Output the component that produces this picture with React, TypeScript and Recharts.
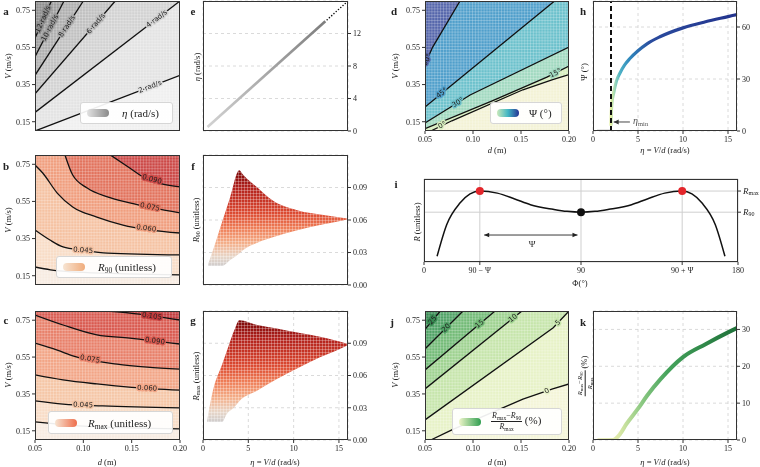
import React from "react";
import {
  ComposedChart,
  XAxis,
  YAxis,
  CartesianGrid,
  Line,
  Area,
  Scatter,
  ReferenceLine,
} from "recharts";

const SERIF = "'Liberation Serif', 'DejaVu Serif', serif";
const SANS = "'DejaVu Sans', sans-serif";

// shared axes
const dTicks = [0.05, 0.1, 0.15, 0.2];
const vTicks = [0.15, 0.35, 0.55, 0.75];
const etaTicks = [0, 5, 10, 15];

// a: eta = V/d contours (d in m, v in m/s)
const eta2 = [{ d: 0.05, v: 0.1 }, { d: 0.2, v: 0.4 }];
const eta4 = [{ d: 0.05, v: 0.2 }, { d: 0.2, v: 0.8 }];
const eta6 = [{ d: 0.05, v: 0.3 }, { d: 0.133, v: 0.8 }];
const eta8 = [{ d: 0.05, v: 0.4 }, { d: 0.1, v: 0.8 }];
const eta10 = [{ d: 0.05, v: 0.5 }, { d: 0.08, v: 0.8 }];
const eta12 = [{ d: 0.05, v: 0.6 }, { d: 0.067, v: 0.8 }];
const etaLabels = [
  { d: 0.169, v: 0.338, text: "2 rad/s" },
  { d: 0.176, v: 0.704, text: "4 rad/s" },
  { d: 0.113, v: 0.678, text: "6 rad/s" },
  { d: 0.083, v: 0.664, text: "8 rad/s" },
  { d: 0.0655, v: 0.655, text: "10 rad/s" },
  { d: 0.0585, v: 0.702, text: "12 rad/s" },
];

// b: R90 contours
const r90_030 = [{ d: 0.05, v: 0.197 }, { d: 0.066, v: 0.182 }, { d: 0.1, v: 0.168 }, { d: 0.2, v: 0.155 }];
const r90_045 = [{ d: 0.05, v: 0.396 }, { d: 0.0655, v: 0.342 }, { d: 0.079, v: 0.305 }, { d: 0.1, v: 0.287 }, { d: 0.125, v: 0.272 }, { d: 0.2, v: 0.262 }];
const r90_060 = [{ d: 0.05, v: 0.746 }, { d: 0.058, v: 0.703 }, { d: 0.073, v: 0.595 }, { d: 0.089, v: 0.52 }, { d: 0.114, v: 0.466 }, { d: 0.141, v: 0.423 }, { d: 0.2, v: 0.38 }];
const r90_075 = [{ d: 0.081, v: 0.8 }, { d: 0.089, v: 0.692 }, { d: 0.104, v: 0.622 }, { d: 0.125, v: 0.574 }, { d: 0.148, v: 0.542 }, { d: 0.2, v: 0.488 }];
const r90_090 = [{ d: 0.128, v: 0.8 }, { d: 0.148, v: 0.73 }, { d: 0.162, v: 0.682 }, { d: 0.2, v: 0.628 }];
const r90Labels = [
  { d: 0.0997, v: 0.287, text: "0.045" },
  { d: 0.165, v: 0.405, text: "0.060" },
  { d: 0.169, v: 0.52, text: "0.075" },
  { d: 0.171, v: 0.669, text: "0.090" },
];

// c: Rmax contours
const rmax_030 = [{ d: 0.05, v: 0.198 }, { d: 0.066, v: 0.19 }, { d: 0.1, v: 0.175 }, { d: 0.2, v: 0.16 }];
const rmax_045 = [{ d: 0.05, v: 0.312 }, { d: 0.079, v: 0.295 }, { d: 0.12, v: 0.285 }, { d: 0.2, v: 0.274 }];
const rmax_060 = [{ d: 0.05, v: 0.453 }, { d: 0.079, v: 0.426 }, { d: 0.114, v: 0.404 }, { d: 0.15, v: 0.386 }, { d: 0.2, v: 0.371 }];
const rmax_075 = [{ d: 0.05, v: 0.626 }, { d: 0.073, v: 0.588 }, { d: 0.09, v: 0.555 }, { d: 0.135, v: 0.512 }, { d: 0.166, v: 0.496 }, { d: 0.2, v: 0.485 }];
const rmax_090 = [{ d: 0.05, v: 0.778 }, { d: 0.079, v: 0.724 }, { d: 0.114, v: 0.67 }, { d: 0.148, v: 0.653 }, { d: 0.2, v: 0.621 }];
const rmax_105 = [{ d: 0.1245, v: 0.8 }, { d: 0.148, v: 0.789 }, { d: 0.2, v: 0.751 }];
const rmaxLabels = [
  { d: 0.0997, v: 0.29, text: "0.045" },
  { d: 0.166, v: 0.381, text: "0.060" },
  { d: 0.107, v: 0.539, text: "0.075" },
  { d: 0.174, v: 0.637, text: "0.090" },
  { d: 0.171, v: 0.772, text: "0.105" },
];

// d: Psi contours (degrees); the 0 contour is shared with j
const zeroLine = [{ d: 0.056, v: 0.1 }, { d: 0.078, v: 0.155 }, { d: 0.152, v: 0.322 }, { d: 0.183, v: 0.377 }, { d: 0.2, v: 0.404 }];
const psi15 = [{ d: 0.05, v: 0.113 }, { d: 0.12, v: 0.262 }, { d: 0.177, v: 0.39 }, { d: 0.2, v: 0.45 }];
const psi30 = [{ d: 0.05, v: 0.143 }, { d: 0.097, v: 0.294 }, { d: 0.2, v: 0.552 }];
const psi45 = [{ d: 0.05, v: 0.229 }, { d: 0.078, v: 0.348 }, { d: 0.185, v: 0.8 }];
const psi60 = [{ d: 0.05, v: 0.46 }, { d: 0.058, v: 0.552 }, { d: 0.0865, v: 0.8 }];
const psiLabels = [
  { d: 0.068, v: 0.131, text: "0°" },
  { d: 0.186, v: 0.412, text: "15°" },
  { d: 0.0844, v: 0.253, text: "30°" },
  { d: 0.0677, v: 0.304, text: "45°" },
  { d: 0.052, v: 0.483, text: "60°" },
];

// j: (Rmax - R90)/Rmax contours (%)
const diff5 = [{ d: 0.05, v: 0.209 }, { d: 0.1836, v: 0.709 }, { d: 0.2, v: 0.8 }];
const diff10 = [{ d: 0.05, v: 0.377 }, { d: 0.151, v: 0.8 }];
const diff15 = [{ d: 0.05, v: 0.48 }, { d: 0.123, v: 0.8 }];
const diff20 = [{ d: 0.05, v: 0.594 }, { d: 0.0896, v: 0.8 }];
const diff25 = [{ d: 0.05, v: 0.7 }, { d: 0.066, v: 0.8 }];
const diffLabels = [
  { d: 0.177, v: 0.366, text: "0" },
  { d: 0.1885, v: 0.736, text: "5" },
  { d: 0.1417, v: 0.761, text: "10" },
  { d: 0.107, v: 0.73, text: "15" },
  { d: 0.072, v: 0.708, text: "20" },
  { d: 0.058, v: 0.75, text: "25" },
];

// e: eta against eta
const eLine = [{ x: 0.5, y: 0.5 }, { x: 13.5, y: 13.5 }];
const eTail = [
  { x: 13.7, y: 13.7 }, { x: 13.95, y: 13.95 }, { x: 14.2, y: 14.2 }, { x: 14.45, y: 14.45 },
  { x: 14.7, y: 14.7 }, { x: 14.95, y: 14.95 }, { x: 15.2, y: 15.2 }, { x: 15.45, y: 15.45 },
  { x: 15.7, y: 15.7 }, { x: 15.95, y: 15.95 }, { x: 16.2, y: 16.2 },
];

// f: R90 fan (lower and upper edge against eta)
const fEta = [0.55, 1.1, 2.1, 3.0, 4.0, 4.4, 6.0, 7.7, 10.4, 13.3, 15.9];
const fLow = [0.0175, 0.0175, 0.0175, 0.023, 0.029, 0.032, 0.039, 0.044, 0.0505, 0.056, 0.0605];
const fHigh = [0.019, 0.032, 0.058, 0.081, 0.106, 0.102, 0.09, 0.078, 0.069, 0.0646, 0.0615];

// g: Rmax fan
const gEta = [0.45, 1.1, 2.1, 2.6, 3.5, 4.0, 6.0, 8.0, 10.7, 12.9, 14.4, 15.9];
const gLow = [0.0167, 0.0167, 0.0167, 0.024, 0.031, 0.036, 0.046, 0.056, 0.068, 0.077, 0.082, 0.088];
const gHigh = [0.018, 0.046, 0.07, 0.082, 0.103, 0.1115, 0.107, 0.104, 0.0995, 0.096, 0.093, 0.0895];

// h: Psi against eta
const hBase = [{ x: 0.45, y: 0 }, { x: 1.95, y: 0 }];
const hCurve = [
  { x: 2.0, y: 3 }, { x: 2.03, y: 10 }, { x: 2.1, y: 16 }, { x: 2.3, y: 22 }, { x: 2.6, y: 28.8 },
  { x: 3.0, y: 33.5 }, { x: 3.5, y: 38 }, { x: 4.1, y: 41.8 }, { x: 5, y: 46.3 }, { x: 6, y: 50.3 },
  { x: 7.5, y: 54.5 }, { x: 10, y: 59.5 }, { x: 12.5, y: 63 }, { x: 15, y: 66 }, { x: 16, y: 67.2 },
];
const etaMin = 2;
const hArrow = [{ x: 4.1, y: 5.2 }, { x: 2.3, y: 5.2 }];
const hNote = [{ x: 4.45, y: 6.2 }];

// i: schematic R(Phi)
const phiTicks = [0, 32, 90, 148, 180];
const phiTickText: Record<number, string> = { 0: "0", 32: "90 − Ψ", 90: "90", 148: "90 + Ψ", 180: "180" };
const rLevels = [0.6, 0.855];
const phiCurve = [
  { x: 7.5, y: 0.07 }, { x: 13, y: 0.45 }, { x: 20.6, y: 0.71 }, { x: 26.4, y: 0.82 }, { x: 32, y: 0.855 },
  { x: 42, y: 0.83 }, { x: 52, y: 0.76 }, { x: 61, y: 0.69 }, { x: 74, y: 0.635 }, { x: 82, y: 0.61 },
  { x: 90, y: 0.6 }, { x: 98, y: 0.61 }, { x: 106, y: 0.635 }, { x: 119, y: 0.69 }, { x: 128, y: 0.76 },
  { x: 138, y: 0.83 }, { x: 148, y: 0.855 }, { x: 153.6, y: 0.82 }, { x: 159.4, y: 0.71 }, { x: 167, y: 0.45 },
  { x: 172.5, y: 0.07 },
];
const peaks = [{ x: 32, y: 0.855 }, { x: 148, y: 0.855 }];
const valley = [{ x: 90, y: 0.6 }];
const psiArrow = [{ x: 34.5, y: 0.325 }, { x: 88, y: 0.325 }];
const psiText = [{ x: 62, y: 0.215 }];

// k: (Rmax - R90)/Rmax against eta
const kCurve = [
  { x: 0.5, y: 0 }, { x: 2.2, y: 0 }, { x: 3, y: 1.6 }, { x: 3.7, y: 4.3 }, { x: 5, y: 8.5 },
  { x: 6, y: 12 }, { x: 7.5, y: 16.5 }, { x: 10, y: 22.5 }, { x: 12.5, y: 26 }, { x: 15, y: 29.2 },
  { x: 16, y: 30.4 },
];

const PL = 40, PT = 10, PR = 40, PB = 24;
const tickStyle = { fontSize: 8, fill: "#222", fontFamily: SERIF };
const tickLine = { stroke: "#333" };
const heatBox = [{ d: 0.05, v: 0.1 }, { d: 0.2, v: 0.1 }];

type Pt = { d: number; v: number };
type Lab = { d: number; v: number; text: string };

function HeatPanel(props: {
  l: number; t: number; w: number; h: number;
  lines: Pt[][]; fills: string[]; bg: string; curve: "linear" | "monotone";
  labels: Lab[]; angles: number[]; halos: string[]; showX: boolean;
}) {
  const { l, t, w, h, lines, fills, bg, curve, labels, angles, halos, showX } = props;
  return (
    <div style={{ position: "absolute", left: l - PL, top: t - PT }}>
      <ComposedChart
        width={w + PL + PR}
        height={h + PT + PB}
        margin={{ top: PT, right: PR, bottom: PB - 20, left: PL - 30 }}
      >
        <defs>
          <pattern id="tex" width="2.9" height="2.9" patternUnits="userSpaceOnUse">
            <path d="M0 0.3H2.9M0.3 0V2.9" stroke="#fff" strokeWidth="0.7" strokeOpacity="0.4" />
          </pattern>
        </defs>
        <CartesianGrid horizontal={false} vertical={false} fill={bg} fillOpacity={1} />
        <XAxis type="number" dataKey="d" domain={[0.05, 0.2]} ticks={dTicks} allowDataOverflow
          height={20} axisLine={false} tickSize={3} tickLine={tickLine} interval={0}
          tick={showX ? tickStyle : false} tickFormatter={(v: number) => v.toFixed(2)} />
        <YAxis type="number" dataKey="v" domain={[0.1, 0.8]} ticks={vTicks} allowDataOverflow
          width={30} axisLine={false} tickSize={3} tickLine={tickLine} tick={tickStyle} interval={0}
          tickFormatter={(v: number) => v.toFixed(2)} />
        {lines.map((pts, i) => (
          <Area key={"a" + i}
            data={pts[0].v <= 0.1 && pts[0].d > 0.05 ? [{ d: 0.05, v: 0.1 }, ...pts] : pts}
            dataKey="v" type={curve} baseValue={0.8} stroke="none" fill={fills[i]} fillOpacity={1}
            isAnimationActive={false} />
        ))}
        <Area data={heatBox} dataKey="v" baseValue={0.8} stroke="none" fill="url(#tex)" fillOpacity={1}
          isAnimationActive={false} />
        {lines.map((pts, i) => (
          <Line key={"l" + i} data={pts} dataKey="v" type={curve} stroke="#111" strokeWidth={1.3}
            dot={false} activeDot={false} isAnimationActive={false} />
        ))}
        <Scatter data={labels} isAnimationActive={false}
          shape={(p: any) => {
            const i = labels.indexOf(p.payload);
            return (
              <text x={p.cx} y={p.cy} transform={`rotate(${angles[i]} ${p.cx} ${p.cy})`}
                textAnchor="middle" dominantBaseline="central" fontSize={7} fontFamily={SANS}
                fill="#222" stroke={halos[i]} strokeWidth={3} strokeLinejoin="round"
                style={{ paintOrder: "stroke" }}>
                {p.payload.text}
              </text>
            );
          }} />
      </ComposedChart>
      <div style={{ position: "absolute", left: PL, top: PT, width: w, height: h,
        border: "1px solid #333", boxSizing: "border-box", pointerEvents: "none" }} />
    </div>
  );
}

function ScatterPanel(props: {
  l: number; t: number; w: number; h: number; yDomain: number[]; yTicks: number[];
  yFmt?: (v: number) => string; showX: boolean; children: React.ReactNode;
}) {
  const { l, t, w, h, yDomain, yTicks, yFmt, showX, children } = props;
  return (
    <div style={{ position: "absolute", left: l - PL, top: t - PT }}>
      <ComposedChart
        width={w + PL + PR}
        height={h + PT + PB}
        margin={{ top: PT, right: PR - 30, bottom: PB - 20, left: PL }}
      >
        <defs>
          <linearGradient id="eGrad" x1="0" y1="1" x2="1" y2="0">
            <stop offset="0" stopColor="#d2d2d2" />
            <stop offset="1" stopColor="#7d7d7d" />
          </linearGradient>
          <linearGradient id="redFan" x1="0" y1="0" x2="0" y2="1">
            <stop offset="0" stopColor="#7a0707" />
            <stop offset="0.18" stopColor="#b1201b" />
            <stop offset="0.45" stopColor="#dc4a31" />
            <stop offset="0.6" stopColor="#ee7c56" />
            <stop offset="0.76" stopColor="#f4ae88" />
            <stop offset="0.9" stopColor="#e8d6c8" />
            <stop offset="1" stopColor="#cfcccc" />
          </linearGradient>
          <pattern id="rays" width="3" height="3" patternUnits="userSpaceOnUse">
            <path d="M0 0.4H3M0.4 0V3" stroke="#fff" strokeWidth="0.7" strokeOpacity="0.45" />
          </pattern>
          <linearGradient id="hGrad" x1="0" y1="0" x2="1" y2="0">
            <stop offset="0" stopColor="#e3ef9f" />
            <stop offset="0.03" stopColor="#9fd8b8" />
            <stop offset="0.07" stopColor="#4fb3c6" />
            <stop offset="0.15" stopColor="#2f86bc" />
            <stop offset="0.32" stopColor="#2a4b9e" />
            <stop offset="1" stopColor="#23338d" />
          </linearGradient>
          <linearGradient id="kGrad" x1="0" y1="0" x2="1" y2="0">
            <stop offset="0" stopColor="#e9ecc2" />
            <stop offset="0.15" stopColor="#dde9a8" />
            <stop offset="0.3" stopColor="#93cc86" />
            <stop offset="0.5" stopColor="#45a35c" />
            <stop offset="1" stopColor="#1e7139" />
          </linearGradient>
        </defs>
        <CartesianGrid strokeDasharray="3 3" stroke="#d0d0d0" strokeWidth={0.8} />
        <XAxis type="number" dataKey="x" domain={[0, 16]} ticks={etaTicks} allowDataOverflow
          height={20} axisLine={false} tickSize={3} tickLine={tickLine} interval={0}
          tick={showX ? tickStyle : false} />
        <YAxis type="number" dataKey="y" orientation="right" domain={yDomain} ticks={yTicks}
          allowDataOverflow width={30} axisLine={false} tickSize={3} tickLine={tickLine} interval={0}
          tick={tickStyle} tickFormatter={yFmt} />
        {children}
      </ComposedChart>
      <div style={{ position: "absolute", left: PL, top: PT, width: w, height: h,
        border: "1px solid #333", boxSizing: "border-box", pointerEvents: "none" }} />
    </div>
  );
}

function FanPanel({ l, t, eta, low, high }: { l: number; t: number; eta: number[]; low: number[]; high: number[] }) {
  const data = eta.map((x, i) => ({ x, r: [low[i], high[i]] }));
  return (
    <ScatterPanel l={l} t={t} w={145} h={t > 300 ? 129 : 130} yDomain={[0, 0.12]}
      yTicks={[0, 0.03, 0.06, 0.09]} yFmt={(v) => v.toFixed(2)} showX={t > 300}>
      <Area data={data} dataKey="r" type="monotone" stroke="none" fill="url(#redFan)"
        fillOpacity={1} isAnimationActive={false} />
      <Area data={data} dataKey="r" type="monotone" stroke="none" fill="url(#rays)"
        fillOpacity={1} isAnimationActive={false} />
    </ScatterPanel>
  );
}

function T({ x, y, rot = 0, size = 8.5, bold = false, children }: {
  x: number; y: number; rot?: number; size?: number; bold?: boolean; children: React.ReactNode;
}) {
  return (
    <div style={{
      position: "absolute", left: x, top: y, transform: `translate(-50%, -50%) rotate(${rot}deg)`,
      fontSize: size, fontWeight: bold ? 700 : 400, whiteSpace: "nowrap", lineHeight: 1,
      fontFamily: SERIF, color: "#222",
    }}>
      {children}
    </div>
  );
}

const Sub = ({ children }: { children: React.ReactNode }) => (
  <span style={{ fontSize: "0.68em", verticalAlign: "-0.3em", lineHeight: 0 }}>{children}</span>
);

function Frac({ size }: { size: number }) {
  return (
    <span style={{ display: "inline-flex", flexDirection: "column", alignItems: "center",
      verticalAlign: "middle", fontSize: size, lineHeight: 1.05 }}>
      <span style={{ borderBottom: "0.8px solid #222", padding: "0 1px 1px" }}>
        <i>R</i><Sub>max</Sub>−<i>R</i><Sub>90</Sub>
      </span>
      <span style={{ paddingTop: 1 }}><i>R</i><Sub>max</Sub></span>
    </span>
  );
}

function LegendBox({ l, t, w, h, grad, gap, children }: {
  l: number; t: number; w: number; h: number; grad: string; gap: number; children: React.ReactNode;
}) {
  return (
    <div style={{
      position: "absolute", left: l, top: t, width: w, height: h, background: "rgba(255,255,255,0.92)",
      border: "1px solid #d6d6d6", borderRadius: 3, boxSizing: "border-box", display: "flex",
      alignItems: "center", fontFamily: SERIF, fontSize: 11, color: "#222", whiteSpace: "nowrap",
    }}>
      <div style={{ marginLeft: 6, width: 22, height: 8, borderRadius: 4, background: grad, flex: "none" }} />
      <div style={{ marginLeft: gap }}>{children}</div>
    </div>
  );
}

const aFills = ["#e3e3e3", "#d2d2d2", "#c0c0c0", "#aeaeae", "#9d9d9d", "#8d8d8d"];
const bFills = ["#f8dcc6", "#f5c2a2", "#f09e7e", "#e2735d", "#cc4947"];
const cFills = ["#f8dcc6", "#f5c6a6", "#f2a586", "#e8806a", "#d95a50", "#c23b3d"];
const dFills = ["#d7eebe", "#a1d9c0", "#6cc1cc", "#509fcb", "#5566ab"];
const jFills = ["#e7f2c7", "#c6e5ab", "#9ed290", "#73bb77", "#4fa265", "#378a52"];

export default function App() {
  return (
    <div style={{ position: "absolute", left: 0, top: 0, width: 760, height: 467,
      overflow: "hidden", fontFamily: SERIF, willChange: "transform" }}>
      {/* left column */}
      <HeatPanel l={35} t={1} w={145} h={130} lines={[eta2, eta4, eta6, eta8, eta10, eta12]}
        fills={aFills} bg="#efefef" curve="linear" labels={etaLabels}
        angles={[-21, -37.5, -49, -57, -62.5, -66.5]} halos={aFills} showX={false} />
      <HeatPanel l={35} t={155} w={145} h={130} lines={[r90_030, r90_045, r90_060, r90_075, r90_090]}
        fills={bFills} bg="#f7ebe1" curve="monotone" labels={r90Labels}
        angles={[5, 8, 11, 15]} halos={[bFills[1], bFills[2], bFills[3], bFills[4]]} showX={false} />
      <HeatPanel l={35} t={311} w={145} h={129}
        lines={[rmax_030, rmax_045, rmax_060, rmax_075, rmax_090, rmax_105]}
        fills={cFills} bg="#f7ebe1" curve="monotone" labels={rmaxLabels}
        angles={[3, 3, 10, 7, 8]} halos={[cFills[1], cFills[2], cFills[3], cFills[4], cFills[5]]} showX />

      {/* second column */}
      <ScatterPanel l={203} t={1} w={145} h={130} yDomain={[0, 16]} yTicks={[0, 4, 8, 12]} showX={false}>
        <Line data={eLine} dataKey="y" stroke="url(#eGrad)" strokeWidth={2.6} dot={false} activeDot={false}
          isAnimationActive={false} />
        <Scatter data={eTail} isAnimationActive={false}
          shape={(p: any) => <circle cx={p.cx} cy={p.cy} r={0.8} fill="#111" />} />
      </ScatterPanel>
      <FanPanel l={203} t={155} eta={fEta} low={fLow} high={fHigh} />
      <FanPanel l={203} t={311} eta={gEta} low={gLow} high={gHigh} />

      {/* d */}
      <HeatPanel l={425} t={1} w={144} h={130} lines={[zeroLine, psi15, psi30, psi45, psi60]}
        fills={dFills} bg="#f3f2d5" curve="linear" labels={psiLabels}
        angles={[-26, -27, -32, -39, -64]} halos={dFills} showX />
      {/* h */}
      <ScatterPanel l={593} t={1} w={144} h={130} yDomain={[0, 75]} yTicks={[0, 30, 60]} showX>
        <Line data={hBase} dataKey="y" stroke="#9a9a9a" strokeWidth={2.5} dot={false} activeDot={false}
          isAnimationActive={false} />
        <Line data={hCurve} dataKey="y" type="monotone" stroke="url(#hGrad)" strokeWidth={3.2} dot={false}
          activeDot={false} isAnimationActive={false} />
        <ReferenceLine x={etaMin} stroke="#111" strokeWidth={2} strokeDasharray="5 3" />
        <Line data={hArrow} dataKey="y" stroke="#333" strokeWidth={0.9} dot={false} activeDot={false}
          isAnimationActive={false} />
        <Scatter data={[hArrow[1]]} isAnimationActive={false}
          shape={(p: any) => (
            <path d={`M${p.cx} ${p.cy}L${p.cx + 5} ${p.cy - 2.5}L${p.cx + 5} ${p.cy + 2.5}Z`} fill="#333" />
          )} />
        <Scatter data={hNote} isAnimationActive={false}
          shape={(p: any) => (
            <text x={p.cx} y={p.cy} dominantBaseline="central" fontFamily={SERIF} fontSize={10} fill="#555">
              <tspan fontStyle="italic">η</tspan>
              <tspan fontSize={6.5} dy={2.5}>min</tspan>
            </text>
          )} />
      </ScatterPanel>

      {/* i */}
      <div style={{ position: "absolute", left: 424 - PL, top: 179 - PT }}>
        <ComposedChart width={314 + PL + PR} height={83 + PT + PB}
          margin={{ top: PT, right: PR - 30, bottom: PB - 20, left: PL }}>
          <CartesianGrid stroke="#cfcfcf" strokeWidth={1} />
          <XAxis type="number" dataKey="x" domain={[0, 180]} ticks={phiTicks} height={20} interval={0}
            axisLine={false} tickSize={3} tickLine={tickLine} tick={tickStyle}
            tickFormatter={(v: number) => phiTickText[v]} />
          <YAxis type="number" dataKey="y" orientation="right" domain={[0, 1]} ticks={rLevels} interval={0}
            width={30} axisLine={false} tickSize={3} tickLine={tickLine}
            tick={(p: any) => (
              <text x={p.x} y={p.y} dominantBaseline="central" fontFamily={SERIF} fontSize={9} fill="#222">
                <tspan fontStyle="italic">R</tspan>
                <tspan fontSize={6} dy={2}>{p.payload.value > 0.7 ? "max" : "90"}</tspan>
              </text>
            )} />
          <Line data={phiCurve} dataKey="y" type="monotone" stroke="#111" strokeWidth={1.5} dot={false}
            activeDot={false} isAnimationActive={false} />
          <Line data={psiArrow} dataKey="y" stroke="#222" strokeWidth={0.9} dot={false} activeDot={false}
            isAnimationActive={false} />
          <Scatter data={[psiArrow[0]]} isAnimationActive={false}
            shape={(p: any) => (
              <path d={`M${p.cx} ${p.cy}L${p.cx + 5} ${p.cy - 2.3}L${p.cx + 5} ${p.cy + 2.3}Z`} fill="#222" />
            )} />
          <Scatter data={[psiArrow[1]]} isAnimationActive={false}
            shape={(p: any) => (
              <path d={`M${p.cx} ${p.cy}L${p.cx - 5} ${p.cy - 2.3}L${p.cx - 5} ${p.cy + 2.3}Z`} fill="#222" />
            )} />
          <Scatter data={psiText} isAnimationActive={false}
            shape={(p: any) => (
              <text x={p.cx} y={p.cy} textAnchor="middle" dominantBaseline="central" fontFamily={SERIF}
                fontSize={9} fill="#222">Ψ</text>
            )} />
          <Scatter data={peaks} isAnimationActive={false}
            shape={(p: any) => <circle cx={p.cx} cy={p.cy} r={4} fill="#e3262b" />} />
          <Scatter data={valley} isAnimationActive={false}
            shape={(p: any) => <circle cx={p.cx} cy={p.cy} r={4} fill="#111" />} />
        </ComposedChart>
        <div style={{ position: "absolute", left: PL, top: PT, width: 314, height: 83,
          border: "1px solid #333", boxSizing: "border-box", pointerEvents: "none" }} />
      </div>

      {/* j */}
      <HeatPanel l={425} t={311} w={144} h={129} lines={[zeroLine, diff5, diff10, diff15, diff20, diff25]}
        fills={jFills} bg="#f4f5d8" curve="linear" labels={diffLabels}
        angles={[-26, -40, -39, -40, -45, -50]} halos={jFills} showX />
      {/* k */}
      <ScatterPanel l={593} t={311} w={144} h={129} yDomain={[0, 35]} yTicks={[0, 10, 20, 30]} showX>
        <Line data={kCurve} dataKey="y" type="monotone" stroke="url(#kGrad)" strokeWidth={4} dot={false}
          activeDot={false} isAnimationActive={false} />
      </ScatterPanel>

      {/* legends */}
      <LegendBox l={80} t={102} w={93} h={22} grad="linear-gradient(to right, #e2e2e2, #8a8a8a)" gap={13}>
        <i>η</i> (rad/s)
      </LegendBox>
      <LegendBox l={56} t={256} w={116} h={22} grad="linear-gradient(to right, #f7e4d2, #f0ac7c)" gap={13}>
        <i>R</i><Sub>90</Sub> (unitless)
      </LegendBox>
      <LegendBox l={48} t={411} w={125} h={23} grad="linear-gradient(to right, #f7e4d2, #ee6d4b)" gap={11}>
        <i>R</i><Sub>max</Sub> (unitless)
      </LegendBox>
      <LegendBox l={490} t={102} w={72} h={22} grad="linear-gradient(to right, #c9e9b9, #41b6c4, #253494)" gap={10}>
        Ψ (°)
      </LegendBox>
      <LegendBox l={452} t={408} w={110} h={27} grad="linear-gradient(to right, #eef5c8, #2f9e4f)" gap={10}>
        <Frac size={8} /> (%)
      </LegendBox>

      {/* panel letters */}
      <T x={6} y={11} size={11} bold>a</T>
      <T x={193} y={11} size={11} bold>e</T>
      <T x={394} y={11} size={11} bold>d</T>
      <T x={583} y={11} size={11} bold>h</T>
      <T x={6} y={166} size={11} bold>b</T>
      <T x={193} y={166} size={11} bold>f</T>
      <T x={396} y={184} size={11} bold>i</T>
      <T x={6} y={320} size={11} bold>c</T>
      <T x={193} y={320} size={11} bold>g</T>
      <T x={392} y={322} size={11} bold>j</T>
      <T x={583} y={322} size={11} bold>k</T>

      {/* axis titles */}
      <T x={8} y={66} rot={-90}><i>V</i> (m/s)</T>
      <T x={8} y={220} rot={-90}><i>V</i> (m/s)</T>
      <T x={8} y={375} rot={-90}><i>V</i> (m/s)</T>
      <T x={395} y={66} rot={-90}><i>V</i> (m/s)</T>
      <T x={395} y={375} rot={-90}><i>V</i> (m/s)</T>
      <T x={107} y={462}><i>d</i> (m)</T>
      <T x={497} y={150}><i>d</i> (m)</T>
      <T x={497} y={462}><i>d</i> (m)</T>
      <T x={197} y={67} rot={-90}><i>η</i> (rad/s)</T>
      <T x={196} y={220} rot={-90}><i>R</i><Sub>90</Sub> (unitless)</T>
      <T x={196} y={376} rot={-90}><i>R</i><Sub>max</Sub> (unitless)</T>
      <T x={275} y={462}><i>η</i> = <i>V</i>/<i>d</i> (rad/s)</T>
      <T x={665} y={150}><i>η</i> = <i>V</i>/<i>d</i> (rad/s)</T>
      <T x={665} y={462}><i>η</i> = <i>V</i>/<i>d</i> (rad/s)</T>
      <T x={584} y={72} rot={-90}>Ψ (°)</T>
      <T x={585} y={376} rot={-90}><Frac size={6.5} /> (%)</T>
      <T x={417} y={222} rot={-90}><i>R</i> (unitless)</T>
      <T x={580} y={283}>Φ(°)</T>
    </div>
  );
}
